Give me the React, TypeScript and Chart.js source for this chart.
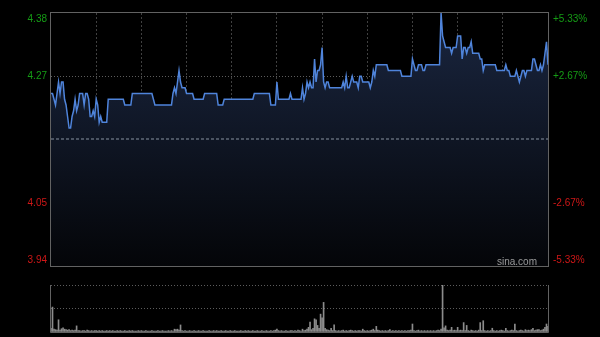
import React, { useEffect, useRef } from 'react';
import { Chart, registerables } from 'chart.js';

Chart.register(...registerables);

// ---- data ----
const PREV_CLOSE = 4.16;
const PRICE_MIN = 3.94;
const PRICE_MAX = 4.38;
const PRICE_TICKS = [3.94, 4.05, 4.16, 4.27, 4.38];
const PRICE_LABELS = ['3.94', '4.05', '', '4.27', '4.38'];
const PCT_MIN = -5.33;
const PCT_MAX = 5.33;
const PCT_TICKS = [-5.33, -2.67, 0, 2.67, 5.33];
const PCT_LABELS = ['-5.33%', '-2.67%', '', '+2.67%', '+5.33%'];
const VOL_MAX = 100;
const VOL_TICKS = [0, 50, 100];
const WATERMARK = 'sina.com';

const prices = [
  4.24, 4.24, 4.23, 4.22, 4.24, 4.26, 4.24, 4.26, 4.26, 4.23,
  4.22, 4.20, 4.18, 4.18, 4.20, 4.21, 4.23, 4.21, 4.22, 4.24,
  4.24, 4.24, 4.22, 4.24, 4.24, 4.23, 4.20, 4.20, 4.21, 4.20,
  4.23, 4.22, 4.19, 4.20, 4.19, 4.19, 4.19, 4.19, 4.23, 4.23,
  4.23, 4.23, 4.23, 4.23, 4.23, 4.23, 4.23, 4.23, 4.23, 4.22,
  4.22, 4.22, 4.22, 4.22, 4.24, 4.24, 4.24, 4.24, 4.24, 4.24,
  4.24, 4.24, 4.24, 4.24, 4.24, 4.24, 4.24, 4.24, 4.23, 4.22,
  4.22, 4.22, 4.22, 4.22, 4.22, 4.22, 4.22, 4.22, 4.22, 4.22,
  4.22, 4.24, 4.25, 4.24, 4.26, 4.28, 4.26, 4.25, 4.25, 4.25,
  4.24, 4.24, 4.24, 4.24, 4.24, 4.23, 4.23, 4.23, 4.23, 4.23,
  4.23, 4.23, 4.24, 4.24, 4.24, 4.24, 4.24, 4.24, 4.24, 4.24,
  4.24, 4.22, 4.22, 4.22, 4.22, 4.23, 4.23, 4.23, 4.23, 4.23,
  4.23, 4.23, 4.23, 4.23, 4.23, 4.23, 4.23, 4.23, 4.23, 4.23,
  4.23, 4.23, 4.23, 4.23, 4.23, 4.24, 4.24, 4.24, 4.24, 4.24,
  4.24, 4.24, 4.24, 4.24, 4.24, 4.24, 4.22, 4.22, 4.22, 4.22,
  4.26, 4.23, 4.23, 4.23, 4.23, 4.23, 4.23, 4.23, 4.23, 4.24,
  4.23, 4.23, 4.23, 4.23, 4.23, 4.23, 4.23, 4.25, 4.23, 4.24,
  4.26, 4.25, 4.26, 4.25, 4.25, 4.30, 4.26, 4.28, 4.28, 4.29,
  4.32, 4.26, 4.25, 4.26, 4.26, 4.25, 4.25, 4.25, 4.25, 4.25,
  4.25, 4.25, 4.25, 4.25, 4.26, 4.25, 4.27, 4.25, 4.25, 4.26,
  4.27, 4.26, 4.26, 4.26, 4.25, 4.27, 4.27, 4.26, 4.26, 4.26,
  4.26, 4.26, 4.25, 4.26, 4.28, 4.27, 4.29, 4.29, 4.29, 4.29,
  4.29, 4.29, 4.29, 4.29, 4.28, 4.28, 4.28, 4.28, 4.28, 4.28,
  4.28, 4.28, 4.28, 4.27, 4.27, 4.27, 4.27, 4.27, 4.27, 4.27,
  4.30, 4.29, 4.28, 4.28, 4.29, 4.29, 4.29, 4.28, 4.28, 4.29,
  4.29, 4.29, 4.29, 4.29, 4.29, 4.29, 4.29, 4.29, 4.29, 4.38,
  4.34, 4.33, 4.32, 4.32, 4.32, 4.32, 4.31, 4.32, 4.32, 4.32,
  4.34, 4.34, 4.34, 4.30, 4.32, 4.32, 4.31, 4.32, 4.32, 4.33,
  4.31, 4.31, 4.31, 4.31, 4.31, 4.30, 4.30, 4.28, 4.29, 4.29,
  4.29, 4.29, 4.29, 4.29, 4.29, 4.29, 4.28, 4.28, 4.28, 4.28,
  4.28, 4.28, 4.29, 4.28, 4.28, 4.27, 4.27, 4.27, 4.27, 4.28,
  4.27, 4.26, 4.27, 4.28, 4.28, 4.27, 4.28, 4.28, 4.28, 4.28,
  4.30, 4.30, 4.29, 4.28, 4.28, 4.29, 4.28, 4.29, 4.31, 4.33,
  4.29,
];

const volumes = [
  8, 53, 6, 5, 4, 26, 4, 7, 9, 6,
  5, 4, 5, 3, 4, 3, 4, 13, 3, 3,
  2, 3, 3, 2, 4, 3, 2, 3, 2, 3,
  3, 2, 3, 2, 3, 2, 2, 3, 2, 3,
  2, 3, 2, 2, 3, 2, 3, 2, 2, 3,
  2, 2, 3, 2, 3, 2, 2, 2, 3, 2,
  3, 2, 2, 3, 2, 2, 2, 3, 2, 2,
  2, 3, 2, 2, 3, 2, 2, 2, 3, 2,
  3, 2, 6, 5, 6, 4, 15, 3, 2, 3,
  2, 2, 3, 2, 2, 3, 2, 2, 3, 2,
  2, 3, 2, 2, 2, 3, 2, 2, 3, 2,
  3, 2, 2, 3, 2, 2, 3, 2, 2, 3,
  2, 2, 3, 2, 2, 2, 3, 2, 2, 3,
  2, 3, 2, 2, 3, 2, 2, 3, 2, 2,
  3, 2, 2, 3, 2, 2, 3, 2, 3, 4,
  6, 3, 2, 3, 2, 2, 3, 2, 2, 3,
  3, 2, 3, 2, 4, 3, 2, 6, 3, 4,
  6, 10, 21, 5, 8, 28, 26, 14, 8, 38,
  30, 63, 8, 5, 4, 3, 8, 3, 15, 3,
  2, 3, 2, 3, 4, 2, 3, 2, 3, 4,
  3, 2, 3, 2, 3, 3, 2, 6, 3, 2,
  3, 2, 3, 4, 6, 3, 12, 4, 3, 2,
  3, 2, 3, 2, 3, 5, 2, 3, 2, 3,
  2, 3, 2, 3, 2, 3, 2, 3, 3, 4,
  17, 3, 2, 3, 4, 2, 3, 2, 3, 2,
  3, 2, 3, 2, 3, 2, 3, 4, 3, 6,
  100, 9, 13, 4, 3, 4, 10, 3, 4, 3,
  10, 3, 4, 3, 20, 3, 14, 3, 2, 4,
  3, 2, 3, 2, 4, 20, 3, 24, 3, 2,
  3, 2, 3, 8, 3, 2, 3, 2, 3, 4,
  3, 2, 8, 3, 2, 3, 4, 3, 17, 3,
  2, 3, 4, 3, 2, 5, 3, 4, 3, 5,
  8, 3, 4, 5, 5, 3, 4, 6, 10, 17,
  12,
];

function buildTimes(): string[] {
  const out: string[] = [];
  const fmt = (t: number) =>
    `${String(Math.floor(t / 60)).padStart(2, '0')}:${String(t % 60).padStart(2, '0')}`;
  for (let t = 9 * 60 + 30; t <= 12 * 60; t++) out.push(fmt(t));
  for (let t = 13 * 60 + 1; t <= 16 * 60; t++) out.push(fmt(t));
  return out;
}
const times = buildTimes();

// ---- styles ----
const BG = '#000000';
const GREEN = '#159c15';
const RED = '#cf1717';
const FONT = '10px "Liberation Sans", Arial, sans-serif';
const BORDER = '#626262';
const GRID_V = '#404040';
const GRID_H = '#5c5c5c';
const LEFT_W = 51;
const RIGHT_W = 52;

const priceDecor = {
  id: 'priceDecor',
  afterDatasetsDraw(chart: any) {
    const { ctx, chartArea, scales } = chart;
    const y = Math.round(scales.y.getPixelForValue(PREV_CLOSE));
    ctx.save();
    ctx.strokeStyle = 'rgba(150,160,175,0.6)';
    ctx.lineWidth = 1.5;
    ctx.setLineDash([3, 2]);
    ctx.beginPath();
    ctx.moveTo(chartArea.left, y);
    ctx.lineTo(chartArea.right, y);
    ctx.stroke();
    ctx.restore();
  },
  afterDraw(chart: any) {
    const { ctx, chartArea, scales } = chart;
    ctx.save();
    ctx.strokeStyle = BORDER;
    ctx.lineWidth = 1;
    ctx.strokeRect(chartArea.left - 0.5, chartArea.top - 0.5, chartArea.right - chartArea.left + 1, chartArea.bottom - chartArea.top + 1);
    ctx.font = FONT;
    ctx.textBaseline = 'middle';
    const clampY = (p: number) => Math.min(Math.max(p, chartArea.top + 6), chartArea.bottom - 6);
    PRICE_TICKS.forEach((v, i) => {
      const label = PRICE_LABELS[i];
      if (!label) return;
      ctx.fillStyle = v > PREV_CLOSE ? GREEN : RED;
      ctx.textAlign = 'right';
      ctx.fillText(label, chartArea.left - 4, clampY(scales.y.getPixelForValue(v)));
    });
    PCT_TICKS.forEach((v, i) => {
      const label = PCT_LABELS[i];
      if (!label) return;
      ctx.fillStyle = v > 0 ? GREEN : RED;
      ctx.textAlign = 'left';
      ctx.fillText(label, chartArea.right + 5, clampY(scales.yr.getPixelForValue(v)));
    });
    ctx.fillStyle = 'rgba(190,190,190,0.8)';
    ctx.textAlign = 'right';
    ctx.textBaseline = 'alphabetic';
    ctx.fillText(WATERMARK, chartArea.right - 11, chartArea.bottom - 1);
    ctx.restore();
  },
};

const volDecor = {
  id: 'volDecor',
  afterDraw(chart: any) {
    const { ctx, chartArea } = chart;
    ctx.save();
    ctx.strokeStyle = BORDER;
    ctx.lineWidth = 1;
    ctx.beginPath();
    ctx.moveTo(chartArea.left - 0.5, chartArea.top);
    ctx.lineTo(chartArea.left - 0.5, chartArea.bottom + 0.5);
    ctx.lineTo(chartArea.right + 0.5, chartArea.bottom + 0.5);
    ctx.lineTo(chartArea.right + 0.5, chartArea.top);
    ctx.stroke();
    ctx.restore();
  },
};

export default function App() {
  const priceRef = useRef<HTMLCanvasElement>(null);
  const volRef = useRef<HTMLCanvasElement>(null);

  useEffect(() => {
    const priceChart = new Chart(priceRef.current as HTMLCanvasElement, {
      type: 'line',
      data: {
        labels: times,
        datasets: [
          {
            data: prices,
            yAxisID: 'y',
            borderColor: '#4f84db',
            borderWidth: 1.5,
            pointRadius: 0,
            tension: 0,
            fill: 'start',
            backgroundColor: (c: any) => {
              const area = c.chart.chartArea;
              if (!area) return 'rgba(20,30,50,0.8)';
              const g = c.chart.ctx.createLinearGradient(0, area.top, 0, area.bottom);
              g.addColorStop(0, 'rgb(26,38,64)');
              g.addColorStop(1, 'rgb(4,5,8)');
              return g;
            },
          },
        ],
      },
      options: {
        animation: false,
        responsive: false,
        events: [],
        layout: { padding: { top: 13, bottom: 4, left: 0, right: 0 } },
        plugins: { legend: { display: false }, tooltip: { enabled: false } },
        scales: {
          x: {
            type: 'category',
            offset: false,
            ticks: { display: false, autoSkip: false },
            grid: {
              drawTicks: false,
              color: (c: any) => (c.index % 30 === 0 && c.index > 0 && c.index < times.length - 1 ? GRID_V : 'rgba(0,0,0,0)'),
            },
            border: { display: false, dash: [2, 2] },
            afterFit: (s: any) => { s.height = 0; },
          },
          y: {
            type: 'linear',
            position: 'left',
            min: PRICE_MIN,
            max: PRICE_MAX,
            afterBuildTicks: (s: any) => { s.ticks = PRICE_TICKS.map((v) => ({ value: v })); },
            ticks: { display: false },
            grid: {
              drawTicks: false,
              color: (c: any) => (c.index === 1 || c.index === 3 ? GRID_H : 'rgba(0,0,0,0)'),
            },
            border: { display: false, dash: [1, 2] },
            afterFit: (s: any) => { s.width = LEFT_W; },
          },
          yr: {
            type: 'linear',
            position: 'right',
            min: PCT_MIN,
            max: PCT_MAX,
            afterBuildTicks: (s: any) => { s.ticks = PCT_TICKS.map((v) => ({ value: v })); },
            ticks: { display: false },
            grid: { display: false, drawTicks: false },
            border: { display: false },
            afterFit: (s: any) => { s.width = RIGHT_W; },
          },
        },
      },
      plugins: [priceDecor],
    } as any);

    const volChart = new Chart(volRef.current as HTMLCanvasElement, {
      type: 'bar',
      data: {
        labels: times,
        datasets: [
          {
            data: volumes,
            backgroundColor: '#8c8c8c',
            barThickness: 1,
          },
        ],
      },
      options: {
        animation: false,
        responsive: false,
        events: [],
        layout: { padding: { top: 5, bottom: 5, left: 0, right: RIGHT_W } },
        plugins: { legend: { display: false }, tooltip: { enabled: false } },
        scales: {
          x: {
            type: 'category',
            offset: false,
            display: false,
          },
          y: {
            type: 'linear',
            position: 'left',
            min: 0,
            max: VOL_MAX,
            afterBuildTicks: (s: any) => { s.ticks = VOL_TICKS.map((v) => ({ value: v })); },
            ticks: { display: false },
            grid: {
              drawTicks: false,
              color: (c: any) => (c.index > 0 ? GRID_H : 'rgba(0,0,0,0)'),
            },
            border: { display: false, dash: [1, 2] },
            afterFit: (s: any) => { s.width = LEFT_W; },
          },
        },
      },
      plugins: [volDecor],
    } as any);

    return () => {
      priceChart.destroy();
      volChart.destroy();
    };
  }, []);

  return (
    <div style={{ position: 'fixed', left: 0, top: 0, width: 600, height: 337, background: BG, overflow: 'hidden' }}>
      <canvas ref={priceRef} width={600} height={270} style={{ position: 'absolute', left: 0, top: 0 }} />
      <canvas ref={volRef} width={600} height={57} style={{ position: 'absolute', left: 0, top: 280 }} />
    </div>
  );
}
